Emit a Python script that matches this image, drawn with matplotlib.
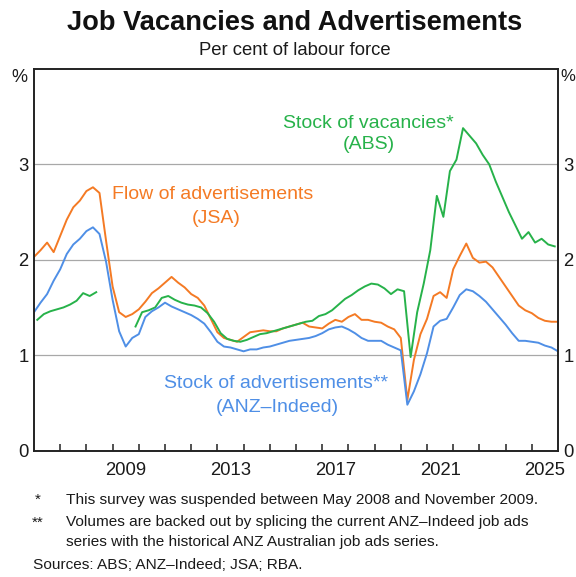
import matplotlib
matplotlib.use('Agg')
import matplotlib.pyplot as plt
import numpy as np

plt.rcParams['font.family'] = ['Liberation Sans', 'DejaVu Sans']

ORANGE = '#F47A24'
GREEN = '#27B24A'
BLUE = '#4F8FE6'
TEXT = '#1A1A1A'

ads_dates = np.arange(2006.0, 2026.01, 0.25)
flow_ads = [
    2.03, 2.10, 2.18, 2.08,   # 2006
    2.25, 2.42, 2.55, 2.62,   # 2007
    2.72, 2.76, 2.70, 2.20,   # 2008
    1.72, 1.45, 1.40, 1.43,   # 2009
    1.48, 1.56, 1.65, 1.70,   # 2010
    1.76, 1.82, 1.76, 1.71,   # 2011
    1.64, 1.60, 1.52, 1.38,   # 2012
    1.24, 1.18, 1.16, 1.14,   # 2013
    1.19, 1.24, 1.25, 1.26,   # 2014
    1.25, 1.25, 1.28, 1.30,   # 2015
    1.32, 1.34, 1.30, 1.29,   # 2016
    1.28, 1.33, 1.37, 1.35,   # 2017
    1.40, 1.43, 1.37, 1.37,   # 2018
    1.35, 1.34, 1.30, 1.27,   # 2019
    1.18, 0.53, 0.95, 1.22,   # 2020
    1.38, 1.62, 1.66, 1.60,   # 2021
    1.90, 2.04, 2.17, 2.02,   # 2022
    1.97, 1.98, 1.92, 1.82,   # 2023
    1.72, 1.62, 1.52, 1.47,   # 2024
    1.44, 1.39, 1.36, 1.35,   # 2025
    1.35,
]
stock_ads = [
    1.45, 1.55, 1.64, 1.78,
    1.90, 2.06, 2.16, 2.22,
    2.30, 2.34, 2.27, 1.98,
    1.58, 1.25, 1.09, 1.18,
    1.22, 1.40, 1.46, 1.50,
    1.55, 1.51, 1.48, 1.45,
    1.42, 1.38, 1.33, 1.24,
    1.14, 1.09, 1.08, 1.06,
    1.04, 1.06, 1.06, 1.08,
    1.09, 1.11, 1.13, 1.15,
    1.16, 1.17, 1.18, 1.20,
    1.23, 1.27, 1.29, 1.30,
    1.27, 1.23, 1.18, 1.15,
    1.15, 1.15, 1.11, 1.08,
    1.05, 0.48, 0.62, 0.80,
    1.02, 1.30, 1.36, 1.38,
    1.50, 1.63, 1.69, 1.67,
    1.62, 1.56, 1.48, 1.40,
    1.32, 1.23, 1.15, 1.15,
    1.14, 1.13, 1.10, 1.08,
    1.04,
]

# ABS vacancies, mid-quarter; survey suspended May 2008 - Nov 2009
vac_dates = np.arange(2006.125, 2026.0, 0.25)
vacancies = [
    1.37, 1.43, 1.46, 1.48,
    1.50, 1.53, 1.57, 1.65,
    1.62, 1.66, np.nan, np.nan,
    np.nan, np.nan, np.nan, 1.30,
    1.45, 1.47, 1.50, 1.60,
    1.62, 1.58, 1.55, 1.53,
    1.52, 1.50, 1.44, 1.35,
    1.23, 1.17, 1.15, 1.14,
    1.16, 1.19, 1.22, 1.23,
    1.25, 1.27, 1.29, 1.31,
    1.33, 1.35, 1.36, 1.41,
    1.43, 1.47, 1.53, 1.59,
    1.63, 1.68, 1.72, 1.75,
    1.74, 1.70, 1.64, 1.69,
    1.67, 0.98, 1.45, 1.75,
    2.10, 2.67, 2.45, 2.93,
    3.05, 3.38, 3.30, 3.22,
    3.10, 3.00, 2.82, 2.66,
    2.50, 2.36, 2.22, 2.29,
    2.18, 2.22, 2.16, 2.14,
]

year_labels = ['2009', '2013', '2017', '2021', '2025']
y_ticks = [0, 1, 2, 3]

fig = plt.figure(figsize=(5.76, 5.77), dpi=100)
ax = fig.add_axes([34 / 576, 126.5 / 577, 524 / 576, 381.5 / 577])

ax.plot(ads_dates, flow_ads, color=ORANGE, lw=1.4)
ax.plot(vac_dates, vacancies, color=GREEN, lw=1.4)
ax.plot(ads_dates, stock_ads, color=BLUE, lw=1.4)

ax.set_xlim(2006, 2026)
ax.set_ylim(0, 4)

# year ticks on the boundaries, labels in the middle of the year
ax.set_xticks(np.arange(2007, 2026), labels=[])
ax.set_xticks([int(y) + 0.5 for y in year_labels], labels=year_labels, minor=True)
ax.tick_params(axis='x', which='major', direction='in', length=5, width=1.1, color='#222222')
ax.tick_params(axis='x', which='minor', length=0, pad=8, labelsize=13.3, labelcolor=TEXT)

ax.set_yticks(y_ticks, labels=[str(v) for v in y_ticks])
ax.tick_params(axis='y', length=0, pad=4, labelsize=13.3, labelcolor=TEXT,
               labelleft=True, labelright=True)
ax.yaxis.grid(True, color='#A8A8A8', lw=0.9)
ax.set_axisbelow(True)
for s in ax.spines.values():
    s.set_linewidth(1.4)
    s.set_color('#222222')

ax.text(-0.012, 1.0, '%', transform=ax.transAxes, ha='right', va='top', fontsize=13, color=TEXT)
ax.text(1.004, 1.0, '%', transform=ax.transAxes, ha='left', va='top', fontsize=12, color=TEXT)

# series labels
ax.text(2018.75, 3.43, 'Stock of vacancies*', color=GREEN, fontsize=14, ha='center', va='center')
ax.text(2018.79, 3.21, '(ABS)', color=GREEN, fontsize=14, ha='center', va='center')
ax.text(2012.83, 2.68, 'Flow of advertisements', color=ORANGE, fontsize=14, ha='center', va='center')
ax.text(2012.95, 2.43, '(JSA)', color=ORANGE, fontsize=14, ha='center', va='center')
ax.text(2015.24, 0.70, 'Stock of advertisements**', color=BLUE, fontsize=14, ha='center', va='center')
ax.text(2015.27, 0.45, '(ANZ\u2013Indeed)', color=BLUE, fontsize=14, ha='center', va='center')

fig.text(0.511, 0.960, 'Job Vacancies and Advertisements', ha='center', va='center',
         fontsize=19.6, fontweight='bold', color='#111111')
fig.text(0.511, 0.912, 'Per cent of labour force', ha='center', va='center', fontsize=13.3, color=TEXT)

fs = 11.1
fig.text(0.061, 0.133, '*', ha='left', va='center', fontsize=fs, color=TEXT)
fig.text(0.115, 0.133, 'This survey was suspended between May 2008 and November 2009.',
         ha='left', va='center', fontsize=fs, color=TEXT)
fig.text(0.056, 0.0945, '**', ha='left', va='center', fontsize=fs, color=TEXT)
fig.text(0.115, 0.0945, 'Volumes are backed out by splicing the current ANZ\u2013Indeed job ads',
         ha='left', va='center', fontsize=fs, color=TEXT)
fig.text(0.115, 0.0607, 'series with the historical ANZ Australian job ads series.',
         ha='left', va='center', fontsize=fs, color=TEXT)
fig.text(0.057, 0.0208, 'Sources: ABS; ANZ\u2013Indeed; JSA; RBA.',
         ha='left', va='center', fontsize=fs, color=TEXT)

fig.savefig('out.png', dpi=100)
plt.close(fig)
